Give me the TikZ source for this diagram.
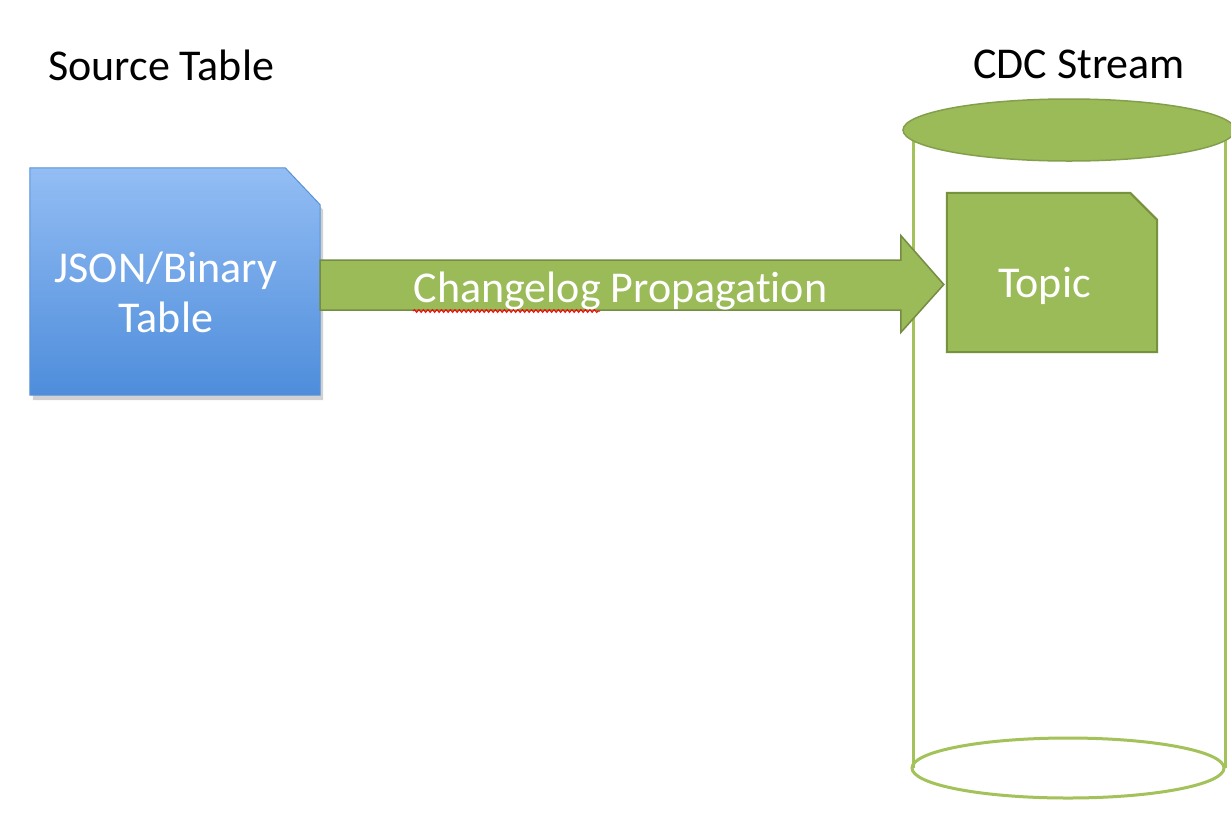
\documentclass[tikz,border=0pt]{standalone}
\usepackage{fontspec}
\setmainfont{Carlito}[Ligatures=NoCommon]
\usetikzlibrary{calc,decorations.pathmorphing}
\definecolor{ogreen}{HTML}{9BBB59}
\definecolor{ogreendark}{HTML}{76923C}
\definecolor{cylline}{HTML}{A3C25A}
\definecolor{bluetop}{HTML}{93BDF4}
\definecolor{bluebot}{HTML}{4E8DDB}
\definecolor{blueedge}{HTML}{5A92D8}
\tikzset{
  txt/.style={inner sep=0pt, anchor=base, font=\fontsize{44}{50}\selectfont},
  wtxt/.style={txt, text=white},
  cylwall/.style={draw=cylline, line width=3pt},
  capfill/.style={fill=ogreen, draw=ogreen!85!black, line width=1.5pt},
  topicbox/.style={fill=ogreen, draw=ogreendark, line width=2pt},
  blockarrow/.style={fill=ogreen, draw=ogreen!75!black, line width=1.5pt, line join=miter},
  spell/.style={draw=red, line width=1pt, decorate, decoration={snake, amplitude=1.4pt, segment length=4.5pt}}
}
\begin{document}
\begin{tikzpicture}[x=1pt,y=-1pt]
\useasboundingbox (0,0) rectangle (1231,823);
\fill[white] (0,0) rectangle (1231,823);

% headings
\node[txt, anchor=base west] (lsrc) at (48,80) {Source Table};
\node[txt, anchor=base west] (lcdc) at (973,78) {CDC Stream};

% cylinder
\draw[cylwall] (913,130) -- (913,768);
\draw[cylwall] (1225,130) -- (1225,768);
\draw[cylwall] (1068,768) ellipse [x radius=156, y radius=30];
\draw[capfill] (1069,130) ellipse [x radius=166, y radius=31];

% source table box
\node[inner sep=0pt, minimum width=290pt, minimum height=227pt] (src) at (175,281.5) {};
\fill[black, opacity=0.18] ($(src.north west)+(3,5)$) -- ($(src.north east)+(-32,5)$) -- ($(src.north east)+(3,42)$) -- ($(src.south east)+(3,5)$) -- ($(src.south west)+(3,5)$) -- cycle;
\path[top color=bluetop, bottom color=bluebot, draw=blueedge, line width=1pt]
  (src.north west) -- ($(src.north east)+(-35,0)$) -- ($(src.north east)+(0,37)$) -- (src.south east) -- (src.south west) -- cycle;
\node[wtxt] (srct1) at (166,282) {JSON/Binary};
\node[wtxt] (srct2) at (166,332) {Table};

% topic box
\node[inner sep=0pt, minimum width=210pt, minimum height=159pt] (topic) at (1052,272.5) {};
\path[topicbox] (topic.north west) -- ($(topic.north east)+(-27,0)$) -- ($(topic.north east)+(0,27)$) -- (topic.south east) -- (topic.south west) -- cycle;
\node[wtxt] (topict) at (1044.5,297) {Topic};

% block arrow from source to topic
\coordinate (ay) at (0,284.5);
\coordinate (as) at (src.east |- ay);
\coordinate (ae) at ($(topic.west |- ay)+(-3,0)$);
\path[blockarrow] ($(as)+(0,-24.5)$) -- ($(ae)+(-43,-24.5)$) -- ($(ae)+(-43,-49)$) -- (ae)
  -- ($(ae)+(-43,48)$) -- ($(ae)+(-43,25.5)$) -- ($(as)+(0,25.5)$) -- cycle;
\node[wtxt] (arrt) at (620.5,302) {Changelog Propagation};
\draw[spell] (413,311) -- (600,311);
\end{tikzpicture}
\end{document}
